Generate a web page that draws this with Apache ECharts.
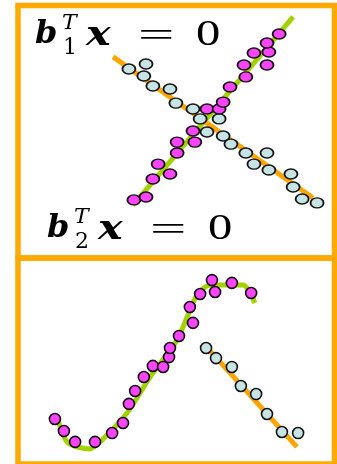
<!DOCTYPE html>
<html>
<head>
<meta charset="utf-8">
<script src="https://cdn.jsdelivr.net/npm/echarts@6/dist/echarts.min.js"></script>
<style>
  html, body { margin: 0; padding: 0; background: #ffffff; }
  #chart { width: 337px; height: 464px; }
</style>
</head>
<body>
<div id="chart"></div>
<script>
// Top panel: two linear subspaces (b1^T x = 0 and b2^T x = 0) with noisy samples.
const subspace1Line = [[36.0, 20.2], [87.5, 96.4]];
const subspace2Line = [[29.6, 80.2], [93.9, 23.1]];
const subspace1Points = [
  [36.3, 22.3], [40.2, 23.5], [42.4, 30.8], [47.9, 32.8], [44.1, 36.8],
  [50.2, 41.3], [50.2, 45.7], [55.9, 45.7], [55.3, 50.2], [59.8, 59.1],
  [63.7, 59.1], [65.0, 61.9], [67.2, 68.0], [72.3, 72.1], [71.7, 76.9],
  [74.9, 81.8], [79.1, 76.9], [79.7, 82.2], [79.1, 85.8], [83.0, 89.5]
];
const subspace2Points = [
  [34.7, 75.3], [40.2, 77.3], [39.5, 72.5], [42.4, 68.4], [47.9, 67.2],
  [49.8, 61.5], [55.3, 59.1], [57.6, 55.1], [63.7, 55.1], [59.8, 49.8],
  [65.0, 48.2], [67.5, 44.9], [72.3, 41.3], [79.1, 41.3], [74.9, 36.8],
  [79.7, 34.4], [86.8, 32.8], [87.5, 27.5], [90.4, 22.7], [95.2, 21.1]
];

// Bottom panel: a nonlinear curve and a line, each with samples.
const curveLine = [
  [11.9, 20.9], [15.1, 9.5], [22.2, 6.5], [25.4, 10.0], [34.1, 24.4],
  [41.5, 42.3], [50.2, 60.7], [53.4, 72.1], [56.6, 83.1], [60.8, 88.1],
  [71.4, 88.1], [75.2, 79.1]
];
const straightLine = [[58.8, 58.7], [88.7, 7.5]];
const curvePoints = [
  [10.9, 21.4], [13.8, 15.4], [17.4, 10.0], [23.8, 10.0], [29.3, 14.4],
  [32.8, 19.4], [34.7, 28.9], [36.7, 35.3], [39.5, 42.3], [42.4, 47.8],
  [45.7, 47.3], [47.6, 52.2], [47.9, 56.7], [50.8, 62.7], [55.3, 69.2],
  [54.3, 77.1], [57.6, 83.6], [62.4, 84.6], [61.4, 90.5], [67.8, 89.1],
  [74.0, 84.1]
];
const linePoints = [
  [59.5, 56.7], [62.7, 51.7], [67.8, 47.3], [70.7, 37.8], [75.6, 33.8],
  [79.1, 23.9], [83.9, 14.9], [89.1, 14.4]
];

const GREEN = '#a2d200';
const ORANGE = '#ffa500';
const MAGENTA = '#ff44ff';
const LIGHTBLUE = '#c6e4e4';
const FRAME = '#ffaa00';

const chart = echarts.init(document.getElementById('chart'), null, { renderer: 'canvas' });

function axis(idx) {
  return { gridIndex: idx, type: 'value', min: 0, max: 100, show: false };
}
function lineSeries(idx, data, color, smooth, z) {
  return {
    type: 'line', xAxisIndex: idx, yAxisIndex: idx, data: data,
    showSymbol: false, symbol: 'none', smooth: smooth, z: z,
    lineStyle: { color: color, width: 5, cap: 'butt', join: 'round' },
    silent: true, animation: false
  };
}
function pointSeries(idx, data, color, size, z) {
  return {
    type: 'scatter', xAxisIndex: idx, yAxisIndex: idx, data: data,
    symbol: 'circle', symbolSize: size, z: z,
    itemStyle: { color: color, borderColor: '#111111', borderWidth: 1.6, opacity: 1 },
    silent: true, animation: false
  };
}

// One glyph of the math labels; sx stretches it horizontally.
function glyph(x, y, str, size, family, style, weight, sx) {
  return {
    type: 'text', x: x, y: y, z: 100, scaleX: sx || 1,
    style: {
      text: str, fill: '#000000',
      fontFamily: family, fontSize: size,
      fontStyle: style, fontWeight: weight,
      verticalAlign: 'middle', align: 'left'
    }
  };
}
const VEC = 'DejaVu Serif';
const ROM = 'Liberation Serif';
function label(x0, yMid, sub) {
  return [
    glyph(x0, yMid, 'b', 32, VEC, 'italic', 'bold', 1.0),
    glyph(x0 + 27, yMid - 11, 'T', 21, VEC, 'italic', 'normal', 1.05),
    glyph(x0 + 28, yMid + 13, sub, 22, VEC, 'normal', 'normal', 1.0),
    glyph(x0 + 51, yMid + 1, 'x', 33, VEC, 'italic', 'bold', 1.25),
    glyph(x0 + 103, yMid + 2, '=', 34, ROM, 'normal', 'normal', 1.9),
    glyph(x0 + 161, yMid + 1, '0', 36, ROM, 'normal', 'normal', 1.35)
  ];
}
const label1 = label(35, 35, '1');
const label2 = label(47, 229, '2');

chart.setOption({
  animation: false,
  backgroundColor: '#ffffff',
  grid: [
    { left: 21, top: 8, width: 311, height: 247 },
    { left: 21, top: 261, width: 311, height: 201 }
  ],
  xAxis: [axis(0), axis(1)],
  yAxis: [axis(0), axis(1)],
  series: [
    lineSeries(0, subspace1Line, GREEN, false, 2),
    lineSeries(0, subspace2Line, ORANGE, false, 3),
    pointSeries(0, subspace2Points, LIGHTBLUE, [13, 10], 4),
    pointSeries(0, subspace1Points, MAGENTA, [13, 10], 5),
    lineSeries(1, curveLine, GREEN, 0.25, 2),
    lineSeries(1, straightLine, ORANGE, false, 3),
    pointSeries(1, linePoints, LIGHTBLUE, 11, 4),
    pointSeries(1, curvePoints, MAGENTA, 11, 5)
  ],
  graphic: [
    { type: 'rect', z: 50, shape: { x: 18, y: 5.5, width: 316.5, height: 252.5 },
      style: { fill: 'none', stroke: FRAME, lineWidth: 5.5 } },
    { type: 'rect', z: 50, shape: { x: 18, y: 258, width: 316.5, height: 206 },
      style: { fill: 'none', stroke: FRAME, lineWidth: 5.5 } }
  ].concat(label1, label2)
});
</script>
</body>
</html>
